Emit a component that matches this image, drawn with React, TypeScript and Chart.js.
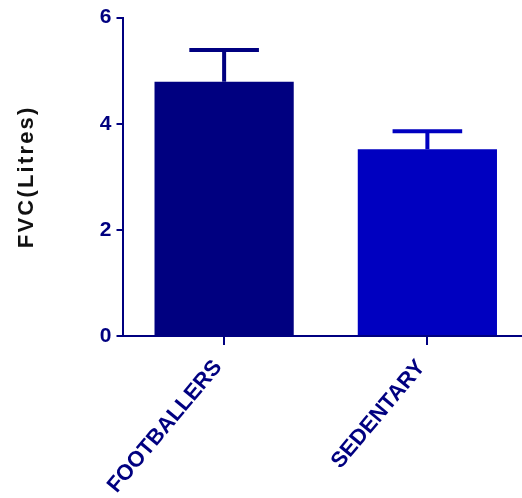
import React, { useEffect, useRef } from "react";
import { Chart, registerables } from "chart.js";

Chart.register(...registerables);

const categories = ["FOOTBALLERS", "SEDENTARY"];
const means = [4.79, 3.52];
const errors = [0.6, 0.34];
const barColors = ["#000080", "#0000C0"];
const yMin = 0;
const yMax = 6;
const yStep = 2;
const yTitle = "FVC(Litres)";

const NAVY = "#000080";
const FONT = "'Liberation Sans', Arial, sans-serif";

const errorBarPlugin = {
  id: "errorBars",
  afterDatasetsDraw(chart: any) {
    const ctx = chart.ctx;
    const meta = chart.getDatasetMeta(0);
    const y = chart.scales.y;
    meta.data.forEach((bar: any, i: number) => {
      const x = bar.x;
      const top = y.getPixelForValue(means[i] + errors[i]);
      const base = bar.y;
      const half = bar.width / 4;
      ctx.save();
      ctx.strokeStyle = barColors[i];
      ctx.lineWidth = 4;
      ctx.beginPath();
      ctx.moveTo(x, base);
      ctx.lineTo(x, top);
      ctx.moveTo(x - half, top);
      ctx.lineTo(x + half, top);
      ctx.stroke();
      ctx.restore();
    });
  },
};

const yTitlePlugin = {
  id: "yTitle",
  afterDraw(chart: any) {
    const ctx = chart.ctx;
    const area = chart.chartArea;
    ctx.save();
    ctx.translate(33, (area.top + area.bottom) / 2);
    ctx.rotate(-Math.PI / 2);
    ctx.font = `bold 22px ${FONT}`;
    (ctx as any).letterSpacing = "2.2px";
    ctx.fillStyle = "#111111";
    ctx.textAlign = "center";
    ctx.textBaseline = "alphabetic";
    ctx.fillText(yTitle, 0, 0);
    ctx.restore();
  },
};

export default function App() {
  const ref = useRef<HTMLCanvasElement>(null);

  useEffect(() => {
    if (!ref.current) return;
    const chart = new Chart(ref.current, {
      type: "bar",
      data: {
        labels: categories,
        datasets: [
          {
            data: means,
            backgroundColor: barColors,
            borderWidth: 0,
            categoryPercentage: 1,
            barPercentage: 0.685,
          },
        ],
      },
      options: {
        responsive: false,
        animation: false,
        devicePixelRatio: 1,
        layout: { padding: { top: 16, left: 8, right: 0, bottom: 0 } },
        plugins: {
          legend: { display: false },
          tooltip: { enabled: false },
          title: { display: false },
        },
        scales: {
          x: {
            offset: true,
            afterFit: (s: any) => {
              s.height = 162;
            },
            grid: {
              offset: false,
              drawOnChartArea: false,
              drawTicks: true,
              tickLength: 9,
              tickWidth: 2,
              tickColor: NAVY,
              color: NAVY,
              lineWidth: 2,
            },
            border: { display: true, color: NAVY, width: 2 },
            ticks: {
              color: NAVY,
              font: { family: FONT, size: 22, weight: "bold" },
              minRotation: 50,
              maxRotation: 50,
              padding: 10,
              labelOffset: -6,
              autoSkip: false,
            },
          },
          y: {
            min: yMin,
            max: yMax,
            afterFit: (s: any) => {
              s.width = 114.5;
            },
            grid: {
              drawOnChartArea: false,
              drawTicks: true,
              tickLength: 6,
              tickWidth: 2,
              tickColor: NAVY,
              color: NAVY,
              lineWidth: 2,
            },
            border: { display: true, color: NAVY, width: 2 },
            ticks: {
              stepSize: yStep,
              color: NAVY,
              font: { family: FONT, size: 21, weight: "bold" },
              padding: 5,
            },
          },
        },
      },
      plugins: [errorBarPlugin, yTitlePlugin],
    });
    return () => chart.destroy();
  }, []);

  return (
    <div
      style={{
        position: "fixed",
        left: 0,
        top: 0,
        width: 522,
        height: 498,
        overflow: "hidden",
        background: "#ffffff",
      }}
    >
      <canvas ref={ref} width={529} height={498} style={{ display: "block" }} />
    </div>
  );
}
